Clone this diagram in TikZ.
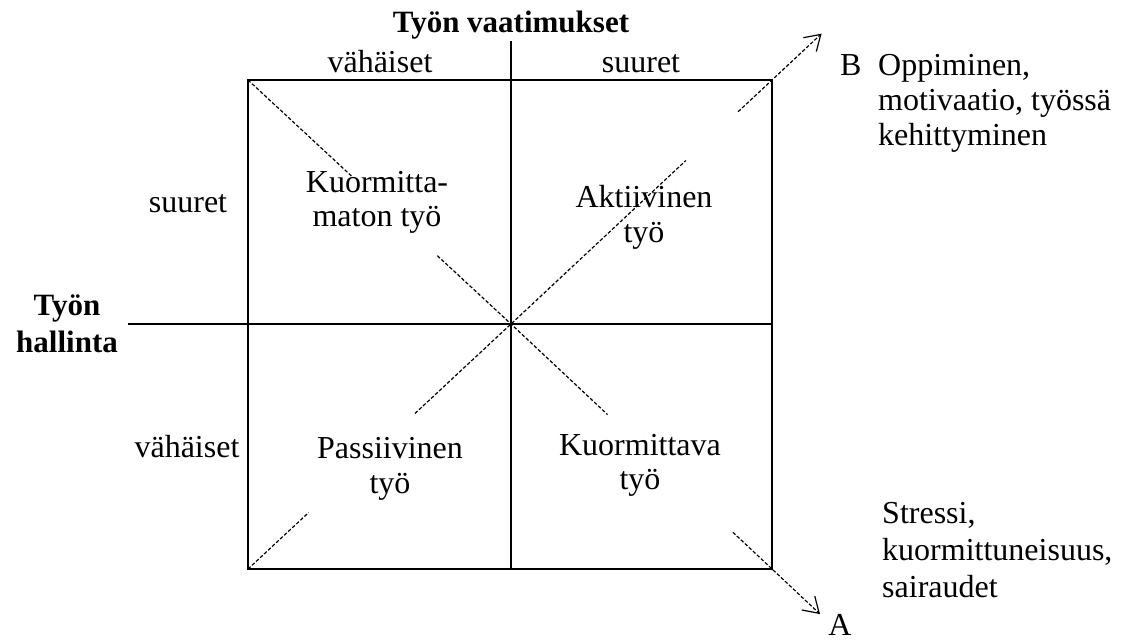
\documentclass[tikz,border=0pt]{standalone}
\usepackage{fontspec}
\setmainfont{Liberation Serif}
\usetikzlibrary{arrows.meta,calc}
\begin{document}
\begin{tikzpicture}[x=1pt,y=-1pt,
  lbl/.style={font=\fontsize{32}{35}\selectfont, anchor=base, inner sep=0pt},
  lbll/.style={lbl, anchor=base west},
  blbl/.style={lbl, font=\fontsize{31}{35}\selectfont\bfseries},
  axisline/.style={line width=2.2pt},
  diag/.style={line width=1.2pt, dash pattern=on 3.5pt off 2pt},
  tipped/.style={-{Straight Barb[length=15pt,width=19pt,line width=1.2pt]}}]
\useasboundingbox (0,0) rectangle (1123,641);
% frame
\coordinate (TL) at (248,80);
\coordinate (TR) at (772,80);
\coordinate (BL) at (248,569);
\coordinate (BR) at (772,569);
\coordinate (C) at (511,324);
\coordinate (VT) at (511,41);
\coordinate (MB) at (511,569);
\coordinate (HL) at (128,324);
\coordinate (MR) at (772,324);
\draw[axisline] (TL) rectangle (BR);
\draw[axisline] (VT) -- (MB);
\draw[axisline] (HL) -- (MR);
% diagonal TL -> BR -> A
\coordinate (d1a) at ($(TL)!0.4!(C)$);
\coordinate (d1b) at ($(TL)!0.72!(C)$);
\coordinate (d1c) at ($(C)!0.37!(BR)$);
\coordinate (d1d) at ($(C)!0.85!(BR)$);
\coordinate (Atip) at ($(C)!1.184!(BR)$);
\draw[diag] (TL) -- (d1a);
\draw[diag] (d1b) -- (C) -- (d1c);
\draw[diag,tipped] (d1d) -- (Atip);
% diagonal BL -> TR -> B
\coordinate (d2a) at ($(BL)!0.23!(C)$);
\coordinate (d2b) at ($(BL)!0.635!(C)$);
\coordinate (d2c) at ($(C)!0.67!(TR)$);
\coordinate (d2d) at ($(C)!0.87!(TR)$);
\coordinate (Btip) at ($(C)!1.19!(TR)$);
\draw[diag] (BL) -- (d2a);
\draw[diag] (d2b) -- (C) -- (d2c);
\draw[diag,tipped] (d2d) -- (Btip);
% axis titles
\node[blbl] (title) at (511,32) {Työn vaatimukset};
\node[lbl] (colL) at (380,72) {vähäiset};
\node[lbl] (colR) at (641,72) {suuret};
\node[blbl] (hal1) at (67,315) {Työn};
\node[blbl] (hal2) at (67,352) {hallinta};
\node[lbl] (rowT) at (188,212) {suuret};
\node[lbl] (rowB) at (187,457) {vähäiset};
% quadrants
\node[lbl] (q1a) at (377,192) {Kuormitta-};
\node[lbl] (q1b) at (377,226) {maton työ};
\node[lbl] (q2a) at (644,207) {Aktiivinen};
\node[lbl] (q2b) at (644,242) {työ};
\node[lbl] (q3a) at (390,458) {Passiivinen};
\node[lbl] (q3b) at (390,493) {työ};
\node[lbl] (q4a) at (640,455) {Kuormittava};
\node[lbl] (q4b) at (640,489) {työ};
% outcomes
\node[lbll] (B) at (840,75) {B};
\node[lbll] (b1) at (878,75) {Oppiminen,};
\node[lbll] (b2) at (878,110) {motivaatio, työssä};
\node[lbll] (b3) at (878,145) {kehittyminen};
\node[lbll] (a1) at (882,523) {Stressi,};
\node[lbll] (a2) at (882,560) {kuormittuneisuus,};
\node[lbll] (a3) at (882,597) {sairaudet};
\node[lbl] (A) at (840,635) {A};
\end{tikzpicture}
\end{document}
